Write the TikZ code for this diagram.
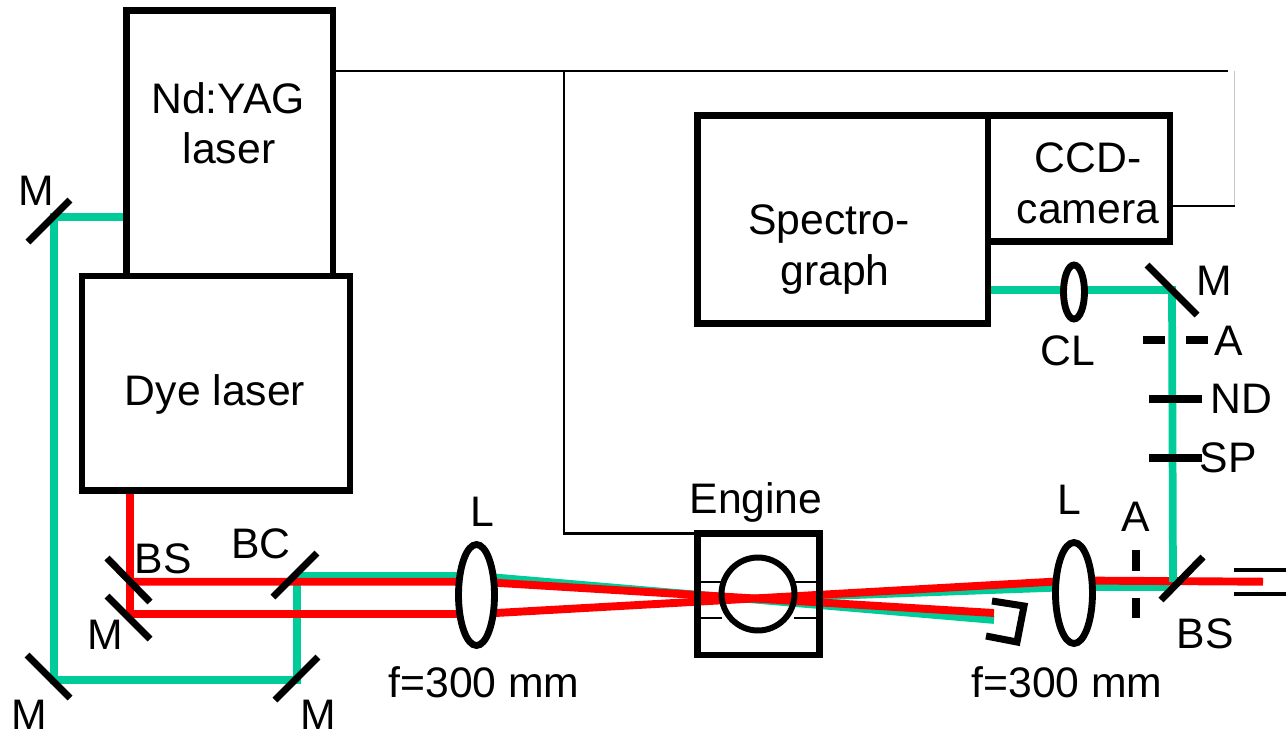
\documentclass[tikz,border=0pt]{standalone}
\usepackage{fontspec}
\setmainfont{Liberation Sans}
\usetikzlibrary{shapes.geometric}
\definecolor{beamgreen}{RGB}{0,204,153}
\tikzset{
lab/.style={anchor=base,inner sep=0pt,outer sep=0pt,font=\fontsize{24.3}{26}\selectfont},
instr/.style={draw,line width=3.9pt,rectangle,inner sep=0pt,outer sep=0pt},
lens/.style={draw,fill=white,line width=3.9pt,ellipse,inner sep=0pt,outer sep=0pt},
mirror/.style={line width=4pt},
stopper/.style={line width=4pt},
wire/.style={line width=1.2pt},
thinwire/.style={line width=0.6pt},
red beam/.style={draw=red,line width=4.5pt},
green beam/.style={draw=beamgreen,line width=4.4pt}
}
\begin{document}
\begin{tikzpicture}[x=0.02cm,y=-0.02cm]
\useasboundingbox (0,0) rectangle (1286,731);
\coordinate (w1) at (336,71);
\coordinate (w2) at (564,71);
\coordinate (w3) at (1228,71);
\coordinate (w4) at (564,533.5);
\coordinate (w5) at (1234.5,71);
\coordinate (w6) at (1234.5,206);
\coordinate (w7) at (1173,206);
\coordinate (w8) at (697,533.5);
\draw[wire] (w1) -- (w3);
\draw[wire] (w2) -- (w4) -- (w8);
\draw[thinwire,draw=black!22] (w5) -- (w6);
\draw[thinwire] (w6) -- (w7);

\coordinate (g1) at (127,217);
\coordinate (g2) at (54,217);
\coordinate (g3) at (54,680);
\coordinate (g4) at (297,680);
\coordinate (g5) at (297,576);
\coordinate (g6) at (478,576);
\coordinate (g7) at (994,620);
\coordinate (g8) at (758,598.6);
\coordinate (g9) at (1074,587);
\coordinate (g10) at (1172,587);
\coordinate (g11) at (1173,582);
\coordinate (g12) at (1172,290);
\coordinate (g13) at (991,290);
\draw[green beam,line join=miter] (g1) -- (g2) -- (g3) -- (g4) -- (g5) -- (g6) -- (g7);
\draw[green beam] (g8) -- (g9) -- (g10);
\coordinate (r1) at (130,490);
\coordinate (r2) at (130,614);
\coordinate (r3) at (478,614);
\coordinate (r4) at (1074,580.5);
\coordinate (r5) at (1263,581.7);
\coordinate (r6) at (130,581.7);
\coordinate (r7) at (478,581.7);
\coordinate (r8) at (994,613);
\draw[red beam] (r1) -- (r2) -- (r3) -- (r4) -- (r5);
\draw[red beam] (r6) -- (r7) -- (r8);
\draw[green beam] (g11) -- (g12) -- (g13);

\node[instr,minimum width=4.13cm,minimum height=5.31cm] (yag) at (229.75,143.25) {};
\node[instr,minimum width=5.36cm,minimum height=4.29cm] (dye) at (216,383.25) {};
\node[instr,minimum width=5.81cm,minimum height=4.16cm] (spec) at (842.75,219.5) {};
\node[instr,minimum width=3.64cm,minimum height=2.52cm] (ccd) at (1079,178.5) {};
\node[instr,minimum width=2.44cm,minimum height=2.43cm] (eng) at (758.5,594.25) {};
\draw[line width=1.6pt] (701,582) -- (722,582);
\draw[line width=1.6pt] (794,582) -- (816,582);
\draw[line width=1.6pt] (701,618) -- (722,618);
\draw[line width=1.6pt] (794,618) -- (816,618);
\node[draw,circle,line width=3.4pt,inner sep=0pt,outer sep=0pt,minimum size=1.46cm] (cyl) at (758,594) {};

\node[lens,minimum width=0.72cm,minimum height=2.02cm] (lensa) at (476.5,595) {};
\node[lens,minimum width=0.74cm,minimum height=2.02cm] (lensb) at (1074,593) {};
\node[lens,minimum width=0.42cm,minimum height=1.08cm] (lensc) at (1074,292) {};

\draw[mirror] (28,242) -- (70,200);
\draw[mirror] (107,558) -- (150,602);
\draw[mirror] (107,596) -- (150,639);
\draw[mirror] (273,597) -- (317,553);
\draw[mirror] (275,700) -- (318,657);
\draw[mirror] (27,655) -- (70,698);
\draw[mirror] (1147,265) -- (1197,315);
\draw[mirror] (1161,600) -- (1203,557);
\draw[stopper] (1143,340) -- (1165,340);
\draw[stopper] (1186,340) -- (1208,340);
\draw[stopper] (1149,399) -- (1202,399);
\draw[stopper] (1149,458) -- (1202,458);
\draw[stopper] (1136,550) -- (1136,571);
\draw[stopper] (1136,598) -- (1136,618);
\draw[stopper,line join=miter] (992,601) -- (1024,606) -- (1017,642) -- (986,636);
\draw[line width=2.8pt] (1234,570) -- (1286,570);
\draw[line width=2.3pt] (1234,594) -- (1286,594);

\node[lab] (t1) at (228,113) {Nd:YAG};
\node[lab] (t2) at (229,163) {laser};
\node[lab] (t3) at (215,405) {Dye laser};
\node[lab] (t4) at (829,234) {Spectro-};
\node[lab] (t5) at (835,285) {graph};
\node[lab] (t6) at (1088,172) {CCD-};
\node[lab] (t7) at (1088,223) {camera};
\node[lab] (t8) at (756,513) {Engine};
\node[lab] (t9) at (482,526) {L};
\node[lab] (t10) at (1069,514) {L};
\node[lab] (t11) at (484,697) {f=300 mm};
\node[lab] (t12) at (1067,697) {f=300 mm};
\node[lab] (t13) at (36,205) {M};
\node[lab] (t14) at (163,573) {BS};
\node[lab] (t15) at (261,558) {BC};
\node[lab] (t16) at (105,649) {M};
\node[lab] (t17) at (29,729) {M};
\node[lab] (t18) at (318,729) {M};
\node[lab] (t19) at (1214,295) {M};
\node[lab] (t20) at (1229,355) {A};
\node[lab] (t21) at (1241,413) {ND};
\node[lab] (t22) at (1228,472) {SP};
\node[lab] (t23) at (1068,365) {CL};
\node[lab] (t24) at (1136,531) {A};
\node[lab] (t25) at (1205,648) {BS};
\end{tikzpicture}
\end{document}
